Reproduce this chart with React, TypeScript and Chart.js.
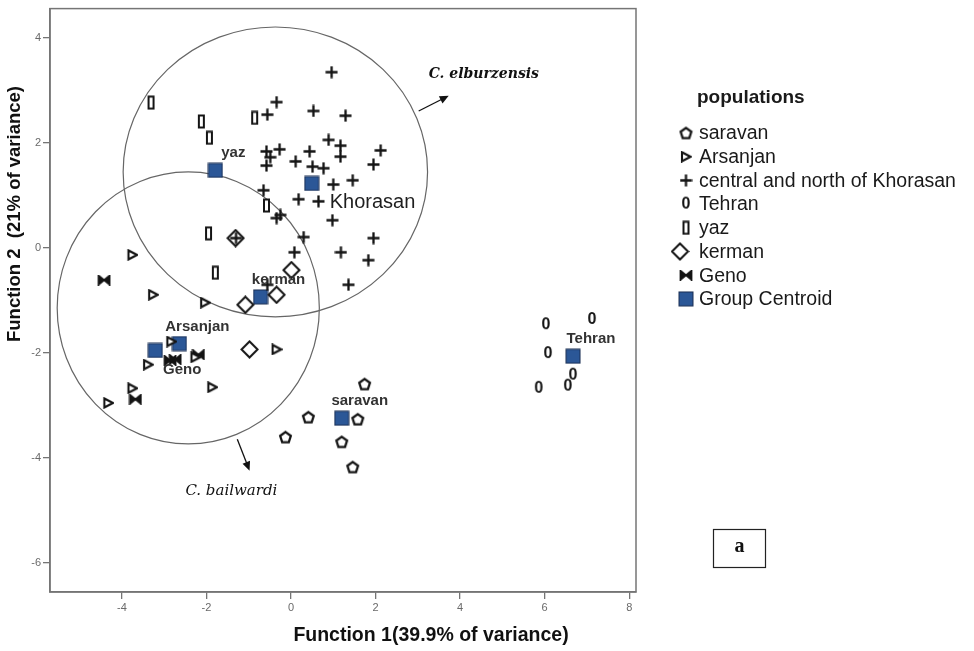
import React, { useEffect, useRef } from 'react';
import { Chart, registerables } from 'chart.js';

Chart.register(...registerables);

// ---- discriminant scores by population ----
const saravanX = [1.74, 0.41, 1.58, -0.13, 1.2, 1.46];
const saravanY = [-2.59, -3.22, -3.26, -3.6, -3.69, -4.17];

const arsanjanX = [-3.75, -3.26, -2.03, -3.38, -2.26, -2.83, -1.86, -3.75, -4.32, -0.34];
const arsanjanY = [-0.13, -0.89, -1.04, -2.22, -2.08, -1.78, -2.65, -2.67, -2.95, -1.93];

const khorasanX = [
  0.96, -0.34, -0.56, 0.53, 1.29, 0.89, 1.17, 1.17, 2.12, 1.95, -0.58, -0.27,
  -0.49, -0.58, 0.11, 0.44, 0.51, 0.77, 1.0, 1.46, -0.65, 0.18, 0.65, 0.98,
  -0.34, -0.25, 0.3, 0.08, 1.18, 1.95, 1.83, 1.36, -0.56, -1.3,
];
const khorasanY = [
  3.35, 2.78, 2.54, 2.61, 2.52, 2.06, 1.95, 1.74, 1.86, 1.59, 1.84, 1.88,
  1.73, 1.57, 1.65, 1.84, 1.55, 1.52, 1.21, 1.29, 1.1, 0.93, 0.89, 0.53,
  0.57, 0.63, 0.21, -0.08, -0.08, 0.19, -0.23, -0.7, -0.7, 0.19,
];

const tehranX = [6.03, 7.12, 6.08, 6.67, 6.55, 5.86];
const tehranY = [-1.46, -1.36, -2.01, -2.42, -2.63, -2.67];

const yazX = [-3.31, -2.12, -1.93, -0.86, -0.58, -1.95, -1.79];
const yazY = [2.77, 2.41, 2.1, 2.48, 0.81, 0.28, -0.47];

const kermanX = [-1.31, 0.01, -1.08, -0.34, -0.98];
const kermanY = [0.19, -0.42, -1.08, -0.89, -1.93];

const genoX = [-4.42, -2.86, -2.74, -2.19, -3.68];
const genoY = [-0.61, -2.14, -2.12, -2.03, -2.88];

// group centroids
const centroidNames = ['saravan', 'Arsanjan', 'Khorasan', 'Tehran', 'yaz', 'kerman', 'Geno'];
const centroidX = [1.2, -2.64, 0.49, 6.67, -1.79, -0.72, -3.21];
const centroidY = [-3.24, -1.82, 1.23, -2.06, 1.48, -0.93, -1.95];

// legend entries
const groupLabels = [
  'saravan',
  'Arsanjan',
  'central and north of Khorasan',
  'Tehran',
  'yaz',
  'kerman',
  'Geno',
  'Group Centroid',
];

// species enclosures (centre and radii in function units)
const ellipseCx = [-0.37, -2.43];
const ellipseCy = [1.45, -1.14];
const ellipseRx = [3.6, 3.1];
const ellipseRy = [2.76, 2.59];

// axes
const xMin = -5.7;
const xMax = 8.16;
const yMin = -6.55;
const yMax = 4.56;
const xTitle = 'Function 1(39.9% of variance)';
const yTitle = 'Function 2  (21% of variance)';

const FONT = "'Liberation Sans', Arial, sans-serif";
const SERIF = "'DejaVu Serif', 'Liberation Serif', serif";
const INK = '#141414';

type Marker = HTMLCanvasElement;

function makeMarker(w: number, h: number, draw: (c: CanvasRenderingContext2D) => void): Marker {
  const cv = document.createElement('canvas');
  cv.width = w;
  cv.height = h;
  const c = cv.getContext('2d')!;
  c.strokeStyle = INK;
  c.fillStyle = INK;
  c.lineWidth = 2;
  c.lineJoin = 'miter';
  draw(c);
  return cv;
}

function buildMarkers() {
  const pentagon = makeMarker(15, 15, (c) => {
    c.beginPath();
    for (let i = 0; i < 5; i++) {
      const a = -Math.PI / 2 + (i * 2 * Math.PI) / 5;
      const px = 7.5 + 5.6 * Math.cos(a);
      const py = 8 + 5.6 * Math.sin(a);
      if (i === 0) c.moveTo(px, py);
      else c.lineTo(px, py);
    }
    c.closePath();
    c.fillStyle = '#fff';
    c.fill();
    c.lineWidth = 2.3;
    c.stroke();
  });
  const triangle = makeMarker(12, 12, (c) => {
    c.beginPath();
    c.moveTo(2, 1.5);
    c.lineTo(10.5, 6);
    c.lineTo(2, 10.5);
    c.closePath();
    c.fillStyle = '#fff';
    c.fill();
    c.lineWidth = 2.1;
    c.stroke();
  });
  const plus = makeMarker(13, 13, (c) => {
    c.beginPath();
    c.moveTo(6.5, 0.5);
    c.lineTo(6.5, 12.5);
    c.moveTo(0.5, 6.5);
    c.lineTo(12.5, 6.5);
    c.lineWidth = 2.3;
    c.stroke();
  });
  const zero = makeMarker(12, 17, (c) => {
    c.font = `bold 16px ${FONT}`;
    c.textAlign = 'center';
    c.textBaseline = 'middle';
    c.fillText('0', 6, 9);
  });
  const bar = makeMarker(9, 15, (c) => {
    c.lineWidth = 2;
    c.fillStyle = '#fff';
    c.fillRect(2, 1.5, 5, 12);
    c.strokeRect(2, 1.5, 5, 12);
  });
  const diamond = makeMarker(19, 19, (c) => {
    c.beginPath();
    c.moveTo(9.5, 1.5);
    c.lineTo(17.5, 9.5);
    c.lineTo(9.5, 17.5);
    c.lineTo(1.5, 9.5);
    c.closePath();
    c.lineWidth = 2;
    c.fillStyle = '#fff';
    c.fill();
    c.stroke();
  });
  const bowtie = makeMarker(14, 11, (c) => {
    c.beginPath();
    c.moveTo(1.5, 1);
    c.lineTo(7, 5.5);
    c.lineTo(1.5, 10);
    c.closePath();
    c.moveTo(12.5, 1);
    c.lineTo(7, 5.5);
    c.lineTo(12.5, 10);
    c.closePath();
    c.fill();
    c.lineWidth = 1.8;
    c.stroke();
  });
  const square = makeMarker(16, 16, (c) => {
    c.fillStyle = '#2b5797';
    c.fillRect(1, 1, 14, 14);
    c.strokeStyle = '#1b2f52';
    c.lineWidth = 1;
    c.strokeRect(1, 1, 14, 14);
  });
  return [pentagon, triangle, plus, zero, bar, diamond, bowtie, square];
}

function pts(xs: number[], ys: number[]) {
  return xs.map((v, i) => ({ x: v, y: ys[i] }));
}

const decorPlugin = {
  id: 'decor',
  beforeDatasetsDraw(chart: any) {
    const { ctx, chartArea: a, scales } = chart;
    const x = scales.x;
    const y = scales.y;
    ctx.save();
    ctx.strokeStyle = '#757575';
    ctx.lineWidth = 1.5;
    ctx.strokeRect(a.left, a.top, a.right - a.left, a.bottom - a.top);

    ctx.strokeStyle = '#666';
    ctx.lineWidth = 1.2;
    for (let i = 0; i < ellipseCx.length; i++) {
      const cx = x.getPixelForValue(ellipseCx[i]);
      const cy = y.getPixelForValue(ellipseCy[i]);
      const rx = Math.abs(x.getPixelForValue(ellipseCx[i] + ellipseRx[i]) - cx);
      const ry = Math.abs(y.getPixelForValue(ellipseCy[i] + ellipseRy[i]) - cy);
      ctx.beginPath();
      ctx.ellipse(cx, cy, rx, ry, 0, 0, Math.PI * 2);
      ctx.stroke();
    }
    ctx.restore();
  },
  afterDatasetsDraw(chart: any) {
    const { ctx, scales } = chart;
    const x = scales.x;
    const y = scales.y;
    ctx.save();

    // centroid names
    ctx.textBaseline = 'middle';
    centroidNames.forEach((name, i) => {
      const px = x.getPixelForValue(centroidX[i]);
      const py = y.getPixelForValue(centroidY[i]);
      if (name === 'Khorasan') {
        ctx.font = `20px ${FONT}`;
        ctx.fillStyle = '#1e1e1e';
        ctx.textAlign = 'left';
        ctx.fillText(name, px + 18, py + 19);
      } else if (name === 'Geno') {
        ctx.font = `bold 15px ${FONT}`;
        ctx.fillStyle = '#333';
        ctx.textAlign = 'center';
        ctx.fillText(name, px + 27, py + 19);
      } else {
        ctx.font = `bold 15px ${FONT}`;
        ctx.fillStyle = '#333';
        ctx.textAlign = 'center';
        ctx.fillText(name, px + 18, py - 17);
      }
    });

    // species notes with arrows
    const arrow = (x0: number, y0: number, x1: number, y1: number) => {
      const ax = x.getPixelForValue(x0);
      const ay = y.getPixelForValue(y0);
      const bx = x.getPixelForValue(x1);
      const by = y.getPixelForValue(y1);
      const ang = Math.atan2(by - ay, bx - ax);
      ctx.strokeStyle = '#111';
      ctx.fillStyle = '#111';
      ctx.lineWidth = 1.3;
      ctx.beginPath();
      ctx.moveTo(ax, ay);
      ctx.lineTo(bx - 6 * Math.cos(ang), by - 6 * Math.sin(ang));
      ctx.stroke();
      ctx.beginPath();
      ctx.moveTo(bx, by);
      ctx.lineTo(bx - 9 * Math.cos(ang) + 4 * Math.sin(ang), by - 9 * Math.sin(ang) - 4 * Math.cos(ang));
      ctx.lineTo(bx - 9 * Math.cos(ang) - 4 * Math.sin(ang), by - 9 * Math.sin(ang) + 4 * Math.cos(ang));
      ctx.closePath();
      ctx.fill();
    };
    arrow(3.02, 2.61, 3.73, 2.9);
    arrow(-1.27, -3.64, -0.98, -4.24);

    ctx.fillStyle = '#111';
    ctx.textAlign = 'center';
    ctx.font = `italic bold 14px ${SERIF}`;
    ctx.fillText('C. elburzensis', x.getPixelForValue(4.56), y.getPixelForValue(3.3));
    ctx.font = `italic 15px ${SERIF}`;
    ctx.fillText('C. bailwardi', x.getPixelForValue(-1.41), y.getPixelForValue(-4.62));
    ctx.restore();
  },
  afterDraw(chart: any) {
    const { ctx } = chart;
    ctx.save();
    ctx.fillStyle = '#111';
    ctx.font = `bold 19.5px ${FONT}`;
    ctx.textAlign = 'center';
    ctx.textBaseline = 'middle';
    // axis titles
    ctx.fillText(xTitle, 431, 636);
    ctx.save();
    ctx.translate(15, 214);
    ctx.rotate(-Math.PI / 2);
    ctx.font = `bold 18.5px ${FONT}`;
    ctx.fillText(yTitle, 0, 0);
    ctx.restore();

    // legend
    ctx.textAlign = 'left';
    ctx.font = `bold 19px ${FONT}`;
    ctx.fillStyle = '#1a1a1a';
    ctx.fillText('populations', 697, 98);
    ctx.font = `19.5px ${FONT}`;
    const datasets = chart.data.datasets;
    datasets.forEach((ds: any, i: number) => {
      const ly = 133 + i * 23.7;
      const img: HTMLCanvasElement = ds.pointStyle;
      const mx = ds.label === 'kerman' ? 680 : 686;
      ctx.drawImage(img, mx - img.width / 2, ly - img.height / 2);
      ctx.fillStyle = '#1a1a1a';
      ctx.fillText(ds.label, 699, ly + 1);
    });

    // panel tag
    ctx.strokeStyle = '#222';
    ctx.lineWidth = 1.2;
    ctx.strokeRect(713.5, 529.5, 52, 38);
    ctx.fillStyle = '#111';
    ctx.font = "bold 20px 'Liberation Serif', 'DejaVu Serif', serif";
    ctx.textAlign = 'center';
    ctx.fillText('a', 739.5, 547);
    ctx.restore();
  },
};

export default function App() {
  const canvasRef = useRef<HTMLCanvasElement | null>(null);

  useEffect(() => {
    document.body.style.margin = '0';
    const m = buildMarkers();
    const groupPoints = [
      pts(saravanX, saravanY),
      pts(arsanjanX, arsanjanY),
      pts(khorasanX, khorasanY),
      pts(tehranX, tehranY),
      pts(yazX, yazY),
      pts(kermanX, kermanY),
      pts(genoX, genoY),
      pts(centroidX, centroidY),
    ];
    const datasets = groupLabels.map((label, i) => ({
      label,
      data: groupPoints[i],
      pointStyle: m[i],
      pointRadius: 6,
      showLine: false,
    }));

    const axisCommon = {
      type: 'linear' as const,
      grid: {
        display: true,
        drawOnChartArea: false,
        drawTicks: true,
        tickLength: 7,
        color: '#757575',
        lineWidth: 1.3,
      },
      border: { display: true, color: '#757575', width: 1.5 },
      title: { display: false },
    };

    const chart = new Chart(canvasRef.current!, {
      type: 'scatter',
      data: { datasets },
      plugins: [decorPlugin],
      options: {
        responsive: false,
        animation: false,
        devicePixelRatio: 1,
        layout: { padding: { top: 5, right: 338, left: 0, bottom: 0 } },
        plugins: { legend: { display: false }, tooltip: { enabled: false } },
        scales: {
          x: {
            ...axisCommon,
            min: xMin,
            max: xMax,
            ticks: {
              stepSize: 2,
              includeBounds: false,
              color: '#6a6a6a',
              padding: 2,
              font: { size: 11, family: FONT },
            },
            afterFit: (s: any) => {
              s.height = 59;
            },
          },
          y: {
            ...axisCommon,
            min: yMin,
            max: yMax,
            ticks: {
              stepSize: 2,
              includeBounds: false,
              color: '#6a6a6a',
              padding: 2,
              font: { size: 11, family: FONT },
            },
            afterFit: (s: any) => {
              s.width = 50;
            },
          },
        },
      } as any,
    });
    return () => chart.destroy();
  }, []);

  return (
    <div style={{ width: 974, height: 651, background: '#fff' }}>
      <canvas ref={canvasRef} width={974} height={651} />
    </div>
  );
}
